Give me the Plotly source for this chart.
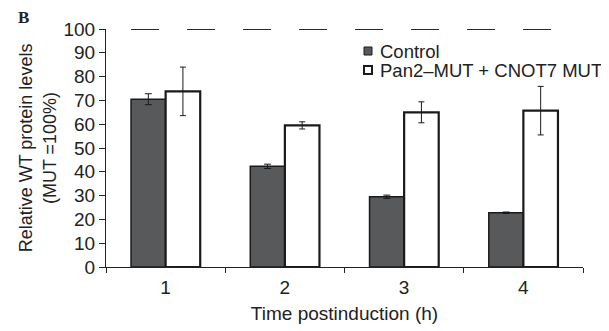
import plotly.graph_objects as go

categories = ["1", "2", "3", "4"]
control = [70.5, 42.3, 29.5, 22.8]
control_err = [2.3, 0.9, 0.7, 0.3]
mutant = [73.8, 59.5, 65.0, 65.7]
mutant_err = [10.2, 1.5, 4.4, 10.2]
series_names = ["Control", "Pan2–MUT + CNOT7 MUT"]
ref_level = 100
y_ticks = list(range(0, 101, 10))

FONT = "Liberation Sans, Arial, sans-serif"
DARK = "#58595b"
INK = "#1a1a1a"
OFF = 8  # page body margin
W, H = 609 - OFF, 331 - OFF
L, R, T, B = 106 - OFF, 26, 29 - OFF, 64
PW, PH = W - L - R, H - T - B


def px_x(px):  # screen pixel -> paper
    return (px - OFF - L) / PW


def px_y(py):
    return 1 - (py - OFF - T) / PH


fig = go.Figure()
fig.add_trace(go.Bar(
    x=categories, y=control, name=series_names[0], showlegend=False,
    marker=dict(color=DARK, line=dict(color=INK, width=1.5)),
    error_y=dict(type="data", array=control_err, color=INK, thickness=1, width=3.5),
))
fig.add_trace(go.Bar(
    x=categories, y=mutant, name=series_names[1], showlegend=False,
    marker=dict(color="white", line=dict(color=INK, width=2.2)),
    error_y=dict(type="data", array=mutant_err, color=INK, thickness=1, width=3),
))

fig.add_shape(type="line", xref="x", yref="y", x0=-0.29, x1=3.25, y0=ref_level, y1=ref_level,
              line=dict(color="#2a2a2a", width=2.2, dash="28px,28px"))

# manual legend
leg_rows = [51, 70]
leg_fill = [DARK, "white"]
leg_lw = [1, 2]
for name, cy, fill, lw in zip(series_names, leg_rows, leg_fill, leg_lw):
    fig.add_shape(type="rect", xref="paper", yref="paper",
                  x0=px_x(364), x1=px_x(372), y0=px_y(cy + 4), y1=px_y(cy - 4),
                  fillcolor=fill, line=dict(color=INK, width=lw))
    fig.add_annotation(text=name, xref="paper", yref="paper", x=px_x(378), y=px_y(cy),
                       showarrow=False, xanchor="left", yanchor="middle",
                       font=dict(size=18.5, color="#222"))

fig.add_annotation(text="<b>B</b>", xref="paper", yref="paper", x=px_x(16), y=px_y(18),
                   showarrow=False, xanchor="left", yanchor="middle",
                   font=dict(family="Liberation Serif, Times New Roman, serif", size=17, color="#222"))

fig.update_layout(
    width=W, height=H,
    margin=dict(l=L, r=R, t=T, b=B),
    paper_bgcolor="white", plot_bgcolor="white",
    font=dict(family=FONT, size=19, color="#222"),
    barmode="group", bargap=0.42, bargroupgap=0,
    showlegend=False,
    xaxis=dict(
        type="category", tickson="boundaries", ticks="outside", ticklen=5, tickcolor="#222",
        showline=True, linecolor="#222", linewidth=1, showgrid=False, automargin=False,
        ticklabelstandoff=3,
        title=dict(text="Time postinduction (h)", standoff=9, font=dict(size=19)),
        tickfont=dict(size=19),
    ),
    yaxis=dict(
        range=[0, 100], tickvals=y_ticks, ticks="outside", ticklen=6, tickcolor="#222",
        showline=True, linecolor="#222", linewidth=1, showgrid=False, zeroline=False,
        automargin=False,
        title=dict(text="Relative WT protein levels<br>(MUT =100%)", standoff=2, font=dict(size=18)),
        tickfont=dict(size=19),
    ),
)

fig.write_html("out.html")
